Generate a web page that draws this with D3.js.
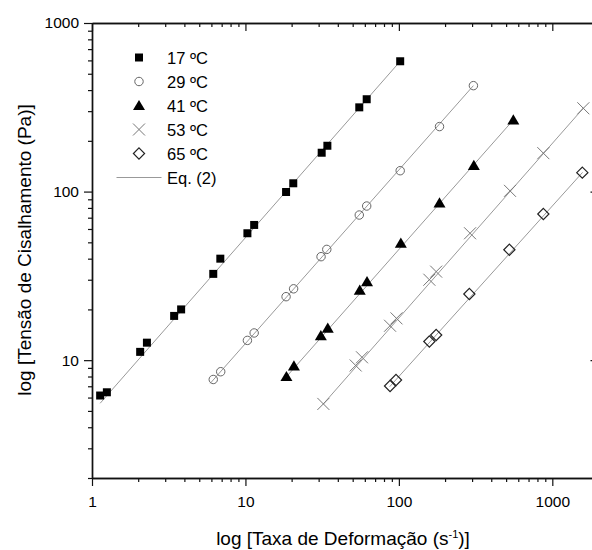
<!DOCTYPE html>
<html>
<head>
<meta charset="utf-8">
<script src="https://cdn.jsdelivr.net/npm/d3@7"></script>
<style>
  body { margin: 0; background: #fff; }
  text { font-family: "Liberation Sans", Arial, sans-serif; fill: #000; }
</style>
</head>
<body>
<div class="chart"></div>
<script>

// shear rate (1/s) and shear stress (Pa), one pair per temperature
var rate17 = [1.13, 1.25, 2.06, 2.28, 3.43, 3.81, 6.17, 6.86, 10.3, 11.4, 18.4, 20.5, 31.4, 34.2, 55.2, 61.7, 102];
var tau17 = [6.17, 6.45, 11.2, 12.7, 18.3, 20.0, 32.5, 40.0, 56.6, 63.4, 99.4, 112, 170, 187, 316, 353, 593];

var rate29 = [6.17, 6.90, 10.3, 11.4, 18.4, 20.6, 31.1, 33.9, 55.2, 61.7, 102, 184, 306];
var tau29 = [7.68, 8.54, 13.1, 14.5, 23.8, 26.5, 41.1, 45.4, 72.6, 82.1, 133, 243, 425];

var rate41 = [18.5, 20.7, 31.0, 34.4, 55.6, 62.0, 103, 184, 308, 557];
var tau41 = [8.0, 9.24, 14.0, 15.5, 26.0, 29.2, 49.4, 85.6, 143, 266];

var rate53 = [32.2, 52.3, 57.5, 87.6, 96.5, 158, 175, 291, 530, 874, 1593];
var tau53 = [5.5, 9.3, 10.4, 16.0, 17.7, 30.0, 33.5, 56.6, 101, 169, 312];

var rate65 = [87.6, 95.8, 158, 175, 288, 525, 874, 1569];
var tau65 = [7.03, 7.63, 12.9, 14.1, 24.7, 45.2, 73.6, 129.5];

// Eq. (2) lines: start and end points
var fitRate = [[1.13, 102], [5.9, 306], [18.0, 557], [32.2, 1600], [87, 1575]];
var fitTau = [[5.55, 593], [7.29, 425], [7.75, 266], [5.5, 314], [6.95, 130]];

var seriesNames = ["17 ºC", "29 ºC", "41 ºC", "53 ºC", "65 ºC"];
var fitName = "Eq. (2)";

var xTickLabels = [1, 10, 100, 1000];
var yTickLabels = [10, 100, 1000];

var svgWidth = 592;
var svgHeight = 550;

var margin = { top: 23, left: 92 };
var plotRight = 598.5;
var plotBottom = 478;

var svg = d3.select(".chart")
  .append("svg")
  .attr("width", svgWidth)
  .attr("height", svgHeight);

var xScale = d3.scaleLog().domain([1, 2000]).range([margin.left, plotRight]);
var yScale = d3.scaleLog().domain([2, 1000]).range([plotBottom, margin.top]);

// minor ticks 2..9 in every decade
function minorTicks(lo, hi) {
  var out = [];
  for (var d = 1; d <= 1000; d *= 10) {
    for (var m = 2; m <= 9; m++) {
      var v = m * d;
      if (v >= lo && v <= hi) out.push(v);
    }
  }
  return out;
}
var xMinor = minorTicks(1, 2000);
var yMinor = minorTicks(2, 1000);

function styleAxis(g) {
  g.selectAll("path.domain").attr("stroke", "#111").attr("stroke-width", 1.4);
  g.selectAll(".tick line").attr("stroke", "#111").attr("stroke-width", 1.2);
  g.selectAll("text")
    .attr("font-family", "Liberation Sans, Arial, sans-serif")
    .attr("font-size", "15.5px")
    .attr("fill", "#000");
}

// bottom axis
svg.append("g")
  .attr("transform", `translate(0, ${plotBottom})`)
  .call(d3.axisBottom(xScale).tickValues(xMinor).tickSize(4).tickSizeOuter(0).tickFormat(""))
  .call(styleAxis);
svg.append("g")
  .attr("transform", `translate(0, ${plotBottom})`)
  .call(d3.axisBottom(xScale).tickValues(xTickLabels).tickSize(8).tickSizeOuter(0).tickPadding(10).tickFormat(d3.format("d")))
  .call(styleAxis);

// left axis
svg.append("g")
  .attr("transform", `translate(${margin.left}, 0)`)
  .call(d3.axisLeft(yScale).tickValues(yMinor).tickSize(4).tickSizeOuter(0).tickFormat(""))
  .call(styleAxis);
svg.append("g")
  .attr("transform", `translate(${margin.left}, 0)`)
  .call(d3.axisLeft(yScale).tickValues(yTickLabels).tickSize(8).tickSizeOuter(0).tickPadding(5).tickFormat(d3.format("d")))
  .call(styleAxis);

// top and right axes, ticks pointing inward
svg.append("g")
  .attr("transform", `translate(0, ${margin.top})`)
  .call(d3.axisTop(xScale).tickValues(xMinor).tickSize(-4).tickSizeOuter(0).tickFormat(""))
  .call(styleAxis);
svg.append("g")
  .attr("transform", `translate(0, ${margin.top})`)
  .call(d3.axisTop(xScale).tickValues(xTickLabels).tickSize(-8).tickSizeOuter(0).tickFormat(""))
  .call(styleAxis);
svg.append("g")
  .attr("transform", `translate(${plotRight}, 0)`)
  .call(d3.axisRight(yScale).tickValues(yMinor).tickSize(-4).tickSizeOuter(0).tickFormat(""))
  .call(styleAxis);
svg.append("g")
  .attr("transform", `translate(${plotRight}, 0)`)
  .call(d3.axisRight(yScale).tickValues(yTickLabels).tickSize(-8).tickSizeOuter(0).tickFormat(""))
  .call(styleAxis);

// marker shapes
var markers = [
  { path: "M-4,-4h8v8h-8z", fill: "#000", stroke: "none", width: 0 },
  { path: d3.symbol(d3.symbolCircle, 56)(), fill: "none", stroke: "#666", width: 1 },
  { path: "M0,-5.6L6,4.6L-6,4.6Z", fill: "#000", stroke: "none", width: 0 },
  { path: "M-6,-6L6,6M-6,6L6,-6", fill: "none", stroke: "#777", width: 1 },
  { path: "M0,-5.6L5.6,0L0,5.6L-5.6,0Z", fill: "none", stroke: "#222", width: 1.2 }
];

var allRates = [rate17, rate29, rate41, rate53, rate65];
var allTaus = [tau17, tau29, tau41, tau53, tau65];

var line = d3.line()
  .x(d => xScale(d[0]))
  .y(d => yScale(d[1]));

// fitted lines first, markers on top
fitRate.forEach(function(r, i) {
  svg.append("path")
    .datum(d3.zip(r, fitTau[i]))
    .attr("d", line)
    .attr("fill", "none")
    .attr("stroke", "#999")
    .attr("stroke-width", 1);
});

allRates.forEach(function(rates, i) {
  var m = markers[i];
  svg.append("g").selectAll("path")
    .data(d3.zip(rates, allTaus[i]))
    .enter()
    .append("path")
    .attr("d", m.path)
    .attr("transform", d => `translate(${xScale(d[0])}, ${yScale(d[1])})`)
    .attr("fill", m.fill)
    .attr("stroke", m.stroke)
    .attr("stroke-width", m.width);
});

// legend
var legend = svg.append("g");
seriesNames.forEach(function(name, i) {
  var cy = 57.5 + i * 24;
  var m = markers[i];
  legend.append("path")
    .attr("d", m.path)
    .attr("transform", `translate(139, ${cy})`)
    .attr("fill", m.fill)
    .attr("stroke", m.stroke)
    .attr("stroke-width", m.width);
  legend.append("text")
    .attr("x", 167)
    .attr("y", cy + 6)
    .style("font-size", "16.5px")
    .text(name);
});
legend.append("line")
  .attr("x1", 116.5).attr("x2", 161.5)
  .attr("y1", 177.5).attr("y2", 177.5)
  .attr("stroke", "#999")
  .attr("stroke-width", 1);
legend.append("text")
  .attr("x", 167)
  .attr("y", 183.5)
  .style("font-size", "16.5px")
  .text(fitName);

// axis titles
var xTitle = svg.append("text")
  .attr("x", 343)
  .attr("y", 545)
  .attr("text-anchor", "middle")
  .style("font-size", "19px");
xTitle.append("tspan").text("log [Taxa de Deformação (s");
xTitle.append("tspan").attr("dy", -7).style("font-size", "11px").text("-1");
xTitle.append("tspan").attr("dy", 7).text(")]");

svg.append("text")
  .attr("transform", "translate(31, 250) rotate(-90)")
  .attr("text-anchor", "middle")
  .style("font-size", "19px")
  .text("log [Tensão de Cisalhamento (Pa)]");

</script>
</body>
</html>
